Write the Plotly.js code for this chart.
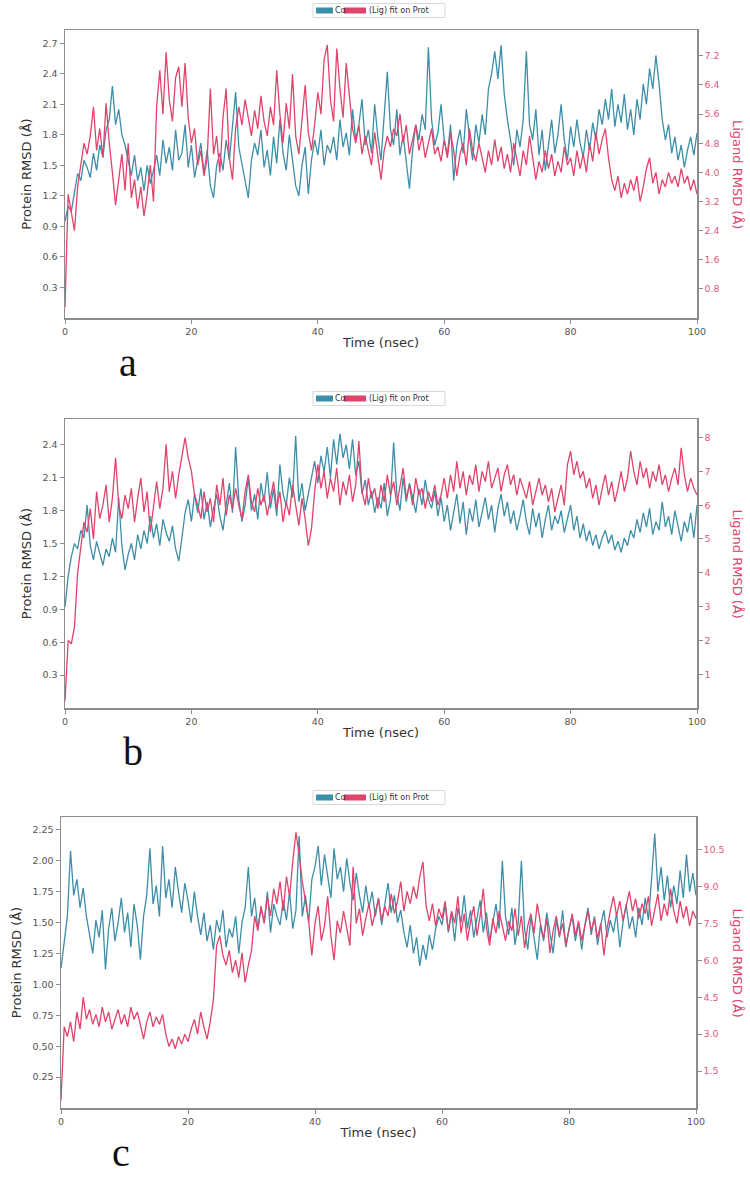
<!DOCTYPE html>
<html>
<head>
<meta charset="utf-8">
<script src="https://cdn.plot.ly/plotly-3.0.1.min.js"></script>
<style>html,body{margin:0;padding:0;background:#fff;}#chart{width:750px;height:1177px;}</style>
</head>
<body>
<div id="chart"></div>
<script>
// ---------- DATA (time step 0.5 ns, 0..100 ns) ----------
const timeStep = 0.5;
const nPoints = 201;
const xTickVals = [0, 20, 40, 60, 80, 100];
const seriesNames = ["Cα", "(Lig) fit on Prot"];
const panelLabels = ["a", "b", "c"];

// Panel a
const proteinA = [
0.95,1.10,1.05,1.25,1.42,1.35,1.55,1.48,1.38,1.62,1.45,1.70,1.58,1.85,1.95,2.28,1.90,2.05,1.80,1.70,
1.55,1.40,1.60,1.35,1.48,1.25,1.50,1.32,1.45,1.60,1.40,1.75,1.52,1.68,1.45,1.85,1.55,1.62,1.90,1.48,
1.70,1.38,1.55,1.72,1.42,1.65,1.30,1.18,1.50,1.62,1.45,1.75,1.55,1.90,2.22,1.68,1.50,1.35,1.18,1.55,
1.72,1.60,1.85,1.48,1.65,1.40,1.78,1.52,1.95,1.62,1.45,1.80,1.55,1.30,1.20,1.50,1.68,1.22,1.55,1.75,
1.60,1.85,1.50,1.70,1.62,1.78,1.55,1.95,1.68,1.82,1.60,2.05,1.75,1.90,2.15,1.70,1.85,1.62,2.10,1.78,
1.55,1.95,2.42,1.85,1.70,2.05,1.60,1.80,1.50,1.27,1.65,1.90,1.75,2.00,1.85,2.66,1.95,1.70,1.82,2.10,
1.75,1.60,1.90,1.35,1.70,1.85,1.62,2.05,1.78,1.55,1.90,1.72,2.00,1.80,2.25,2.40,2.62,2.35,2.68,2.20,
1.95,1.75,1.50,1.85,1.68,1.95,2.62,1.90,1.75,2.05,1.60,1.85,1.45,1.70,1.95,1.62,1.80,2.10,1.75,1.55,
1.88,1.68,1.95,1.72,1.58,1.85,1.65,1.92,1.75,2.05,1.90,2.15,1.95,2.25,1.88,2.10,1.92,2.20,1.85,2.05,
1.80,2.15,1.95,2.30,2.10,2.45,2.25,2.58,2.30,1.95,1.75,1.90,1.62,1.78,1.55,1.70,1.48,1.65,1.78,1.60,
1.82];
const ligandA = [
0.3,3.4,2.9,2.4,3.6,4.2,4.8,4.5,5.0,5.8,4.6,5.2,4.4,5.9,4.8,4.0,3.1,3.8,4.5,3.5,
4.8,3.3,3.8,3.0,3.6,2.8,3.4,4.2,3.2,5.8,6.8,5.6,7.3,6.0,5.4,6.6,6.9,5.8,7.0,5.5,
4.8,5.2,4.2,4.6,3.9,4.4,6.3,4.5,5.0,4.0,5.5,6.3,4.4,3.8,5.2,5.8,5.3,6.0,5.5,5.0,
5.7,5.2,6.1,5.4,5.0,5.8,5.3,6.8,5.6,4.8,5.9,5.2,6.7,5.0,4.5,5.5,6.4,5.1,4.6,5.3,
6.2,5.6,7.1,7.5,6.0,5.4,7.4,6.3,5.5,7.0,6.1,5.2,4.8,5.3,4.5,5.0,4.6,4.2,5.1,4.4,
3.8,4.6,5.0,4.7,5.2,5.0,5.6,4.8,5.3,4.5,4.9,5.3,4.6,5.0,4.4,4.8,5.2,4.5,4.7,4.3,
4.9,4.4,5.1,4.6,3.9,4.5,4.8,4.2,5.2,4.6,4.3,4.8,4.4,4.0,4.6,4.2,4.9,4.3,4.7,4.1,
4.5,4.0,4.8,4.3,3.9,4.6,4.2,5.0,4.4,3.8,4.3,4.0,4.6,4.1,4.5,3.9,4.3,4.0,4.7,4.2,
4.4,3.9,4.6,4.1,4.5,4.0,4.8,4.3,5.1,4.5,4.9,5.2,4.4,3.8,3.5,3.9,3.3,3.7,3.4,3.8,
3.5,3.9,3.2,3.6,4.1,4.4,3.7,4.0,3.4,3.8,3.6,4.0,3.7,3.9,3.6,4.1,3.7,3.9,3.5,3.8,
3.4];

// Panel b
const proteinB = [
0.92,1.20,1.38,1.50,1.45,1.62,1.55,1.85,1.48,1.35,1.52,1.40,1.30,1.45,1.38,1.55,1.42,1.92,1.48,1.26,
1.40,1.50,1.35,1.58,1.45,1.62,1.50,1.75,1.55,1.68,1.48,1.72,1.60,1.52,1.66,1.45,1.34,1.55,1.78,1.90,
1.70,1.95,1.78,2.00,1.72,1.88,1.65,1.82,1.95,1.75,1.62,1.85,2.05,1.78,2.38,1.90,1.70,1.85,2.10,1.80,
1.95,1.72,2.05,1.88,2.15,1.82,2.00,1.75,2.22,1.95,1.85,2.10,1.92,2.48,1.88,2.05,1.80,1.95,2.12,2.25,
2.05,2.30,2.15,2.38,2.10,2.45,2.22,2.50,2.28,2.40,2.18,2.45,2.12,2.25,1.95,2.08,1.85,1.98,1.78,1.92,
1.82,2.05,1.75,1.90,2.42,1.95,1.80,2.10,1.88,2.05,1.92,1.78,2.00,1.85,2.08,1.90,1.82,1.98,1.75,1.92,
1.70,1.85,1.62,1.80,1.95,1.68,1.88,1.58,1.82,1.70,1.90,1.65,1.78,1.92,1.72,1.85,1.60,1.82,1.95,1.75,
1.88,1.68,1.80,1.62,1.75,1.90,1.70,1.58,1.82,1.65,1.78,1.55,1.72,1.85,1.62,1.75,1.68,1.80,1.60,1.72,
1.85,1.62,1.75,1.55,1.68,1.52,1.62,1.48,1.58,1.45,1.55,1.62,1.50,1.58,1.44,1.52,1.42,1.55,1.48,1.62,
1.55,1.72,1.60,1.78,1.65,1.82,1.58,1.70,1.62,1.88,1.65,1.75,1.58,1.80,1.66,1.52,1.70,1.60,1.78,1.55,
1.85];
const ligandB = [
0.2,2.0,1.9,2.4,4.0,4.8,5.5,5.2,5.9,5.0,6.4,5.6,6.0,6.6,5.5,6.2,7.4,6.0,5.6,6.3,
5.9,6.5,5.5,6.2,6.8,5.8,6.4,5.2,6.0,6.7,5.9,6.5,7.8,6.4,7.0,6.2,6.9,7.5,8.0,7.4,
7.0,6.3,6.0,5.6,6.4,5.8,6.2,5.5,6.6,6.0,6.8,5.7,6.3,5.9,6.5,6.0,5.6,6.4,6.9,6.1,
5.8,6.5,6.0,6.3,5.7,6.2,6.7,5.9,6.4,5.5,6.1,5.7,6.6,6.0,5.4,6.2,5.6,4.8,5.3,6.4,
7.2,6.5,7.0,6.2,6.8,6.4,7.1,6.0,6.7,6.3,6.9,6.1,6.6,7.9,6.4,6.0,6.8,6.2,6.5,5.9,
6.6,6.1,6.9,6.3,6.7,6.0,6.5,7.1,6.2,6.6,6.0,6.8,6.3,6.5,5.9,6.4,6.1,6.6,6.0,6.3,
6.8,6.2,6.9,6.4,7.3,6.5,7.0,6.3,6.9,6.6,7.2,6.4,7.0,6.7,7.3,6.5,6.8,7.1,6.4,6.9,
7.2,6.6,6.9,6.3,6.8,6.5,6.2,6.7,6.0,6.4,6.8,6.3,6.6,6.1,6.5,5.8,6.2,6.6,6.0,7.2,
7.6,6.9,7.3,6.8,7.0,6.5,6.8,6.2,6.6,6.0,6.5,6.9,6.3,6.7,6.1,6.5,7.0,6.4,6.8,7.6,
7.0,6.6,7.3,6.8,7.1,6.5,7.0,6.7,7.2,6.6,6.9,6.4,6.8,7.1,6.6,7.7,6.9,6.4,6.8,6.5,
6.3];

// Panel c
const proteinC = [
1.13,1.35,1.55,2.08,1.72,1.85,1.62,1.78,1.55,1.40,1.25,1.52,1.38,1.60,1.12,1.45,1.62,1.35,1.50,1.70,
1.42,1.58,1.30,1.65,1.48,1.20,1.55,1.72,2.10,1.65,1.80,1.55,2.12,1.70,1.85,1.62,1.95,1.75,1.58,1.82,
1.68,1.50,1.75,1.55,1.40,1.58,1.35,1.48,1.28,1.52,1.42,1.60,1.30,1.45,1.38,1.55,1.25,1.50,1.62,1.95,
1.55,1.70,1.45,1.62,1.50,1.75,1.42,1.65,1.55,1.48,1.68,1.52,1.75,1.45,1.60,2.20,1.55,1.72,1.50,1.85,
1.95,2.12,1.80,2.05,1.88,1.70,2.10,1.85,1.95,1.75,2.02,1.82,1.68,1.90,1.72,1.58,1.80,1.62,1.75,1.55,
1.70,1.48,1.65,1.82,1.58,1.72,1.50,1.60,1.42,1.30,1.48,1.25,1.38,1.15,1.32,1.20,1.40,1.28,1.45,1.55,
1.48,1.65,1.42,1.58,1.35,1.62,1.50,1.72,1.45,1.60,1.38,1.55,1.68,1.42,1.58,1.35,1.52,1.65,1.45,2.00,
1.55,1.40,1.62,1.32,1.50,2.00,1.45,1.28,1.55,1.38,1.20,1.48,1.35,1.58,1.42,1.25,1.52,1.38,1.60,1.30,
1.45,1.55,1.35,1.50,1.28,1.48,1.62,1.40,1.55,1.32,1.48,1.60,1.38,1.52,1.42,1.58,1.30,1.50,1.65,1.45,
1.55,1.38,1.62,1.48,1.70,1.52,1.85,2.22,1.75,1.95,1.68,1.88,1.62,1.80,1.65,1.92,1.70,2.05,1.75,1.90,
1.72];
const ligandC = [
0.3,3.3,2.9,3.5,2.7,3.9,3.2,4.5,3.6,4.0,3.4,3.8,3.3,4.1,3.5,3.9,3.2,3.6,4.0,3.4,
3.8,3.3,4.1,3.6,3.9,3.4,2.8,3.5,3.9,3.3,3.7,3.4,3.8,3.0,2.5,2.8,2.4,2.9,2.6,3.0,
2.7,3.2,3.6,3.0,3.9,3.3,2.8,3.5,4.4,6.6,7.0,6.2,5.8,6.4,5.5,6.0,5.3,6.3,5.1,5.8,
6.4,7.8,7.2,8.2,7.5,8.6,7.8,8.9,8.3,9.2,8.0,9.4,8.6,10.0,11.2,10.3,9.2,8.4,7.6,6.2,
7.5,8.2,6.8,7.4,8.6,7.0,6.0,7.6,7.1,8.0,7.3,6.6,9.8,7.5,8.1,7.0,7.7,8.3,7.4,8.0,
8.5,7.6,8.2,7.8,8.7,7.9,8.4,9.2,8.0,8.8,8.3,9.0,8.5,9.4,10.0,8.2,7.6,8.3,7.4,8.1,
7.7,8.4,7.2,8.0,7.5,8.6,7.1,7.9,6.8,7.6,8.2,7.0,7.8,8.9,7.3,6.6,7.7,7.1,8.0,7.4,
6.8,7.6,7.2,8.1,7.0,7.8,6.5,7.4,7.9,7.1,8.3,7.5,6.9,7.7,6.3,7.2,7.8,7.0,7.5,6.6,
7.3,7.9,7.0,7.6,6.8,7.4,8.0,7.2,7.7,6.9,7.5,6.2,7.3,8.0,8.6,7.8,8.4,7.6,8.2,8.8,
8.0,8.5,7.7,8.3,7.9,8.6,7.4,8.1,8.7,7.6,8.3,7.8,8.9,8.0,7.5,8.4,7.7,8.2,7.4,8.0,
7.7];

// Axis tick values
const protTicksA = [0.3,0.6,0.9,1.2,1.5,1.8,2.1,2.4,2.7];
const ligTicksA  = [0.8,1.6,2.4,3.2,4.0,4.8,5.6,6.4,7.2];
const protTicksB = [0.3,0.6,0.9,1.2,1.5,1.8,2.1,2.4];
const ligTicksB  = [1,2,3,4,5,6,7,8];
const protTicksC = [0.25,0.50,0.75,1.00,1.25,1.50,1.75,2.00,2.25];
const ligTicksC  = [1.5,3.0,4.5,6.0,7.5,9.0,10.5];

// ---------- LAYOUT ----------
const W = 750, H = 1177;
const px = x => x / W;
const py = y => 1 - y / H;
const time = Array.from({length: nPoints}, (_, i) => i * timeStep);

const TEAL = '#3d8ea9';
const RED = '#e0436b';
const SPINE = '#8c8c8c';
const TICKFONT = {family: 'DejaVu Sans, sans-serif', size: 9.5, color: '#555'};
const REDTICKFONT = {family: 'DejaVu Sans, sans-serif', size: 9.5, color: '#e25a7c'};

const panels = [
  {prot: proteinA, lig: ligandA, x0: 65, x1: 697, y0: 30, y1: 318, pr: [0, 2.83], lr: [0, 7.91],
   pt: protTicksA, lt: ligTicksA, pf: '.1f', lf: '.1f', legY: 10.5, label: [128, 362]},
  {prot: proteinB, lig: ligandB, x0: 65, x1: 697, y0: 419, y1: 708, pr: [0, 2.635], lr: [0, 8.55],
   pt: protTicksB, lt: ligTicksB, pf: '.1f', lf: 'd', legY: 398.5, label: [133, 751]},
  {prot: proteinC, lig: ligandC, x0: 61, x1: 696, y0: 817, y1: 1108, pr: [0, 2.354], lr: [0, 11.82],
   pt: protTicksC, lt: ligTicksC, pf: '.2f', lf: '.1f', legY: 797.5, label: [121, 1152]}
];

const data = [];
const layout = {
  width: W, height: H, margin: {l: 0, r: 0, t: 0, b: 0},
  paper_bgcolor: '#fff', plot_bgcolor: '#fff', showlegend: false,
  font: {family: 'DejaVu Sans, sans-serif', color: '#333'},
  shapes: [], annotations: []
};

panels.forEach((p, i) => {
  const xs = i === 0 ? '' : String(i + 1);
  const yl = String(2 * i + 1), yr = String(2 * i + 2);
  const yln = yl === '1' ? '' : yl;
  data.push({x: time, y: p.prot, type: 'scatter', mode: 'lines', name: seriesNames[0],
    xaxis: 'x' + xs, yaxis: 'y' + yln, line: {color: TEAL, width: 1.3}});
  data.push({x: time, y: p.lig, type: 'scatter', mode: 'lines', name: seriesNames[1],
    xaxis: 'x' + xs, yaxis: 'y' + yr, line: {color: RED, width: 1.3}});

  layout['xaxis' + xs] = {
    domain: [px(p.x0), px(p.x1)], anchor: 'y' + yln, range: [0, 100],
    tickvals: xTickVals, ticks: 'outside', ticklen: 4, tickcolor: SPINE, tickwidth: 1,
    showline: true, mirror: true, linecolor: SPINE, linewidth: 1.5,
    showgrid: false, zeroline: false, tickfont: TICKFONT,
    title: {text: 'Time (nsec)', font: {family: 'DejaVu Sans, sans-serif', size: 13, color: '#333'}, standoff: 2}
  };
  layout['yaxis' + yln] = {
    domain: [py(p.y1), py(p.y0)], anchor: 'x' + xs, range: p.pr,
    tickvals: p.pt, tickformat: p.pf, ticks: 'outside', ticklen: 4, tickcolor: SPINE,
    showline: true, linecolor: SPINE, linewidth: 1.5, showgrid: false, zeroline: false,
    tickfont: TICKFONT,
    title: {text: 'Protein RMSD (Å)', font: {family: 'DejaVu Sans, sans-serif', size: 13, color: '#333'}, standoff: 8}
  };
  layout['yaxis' + yr] = {
    overlaying: 'y' + yln, side: 'right', anchor: 'x' + xs, range: p.lr,
    tickvals: p.lt, tickformat: p.lf, ticks: 'outside', ticklen: 4, tickcolor: SPINE,
    showline: true, linecolor: SPINE, linewidth: 1.5, showgrid: false, zeroline: false,
    tickfont: REDTICKFONT
  };
  // right axis title (reads top to bottom)
  layout.annotations.push({xref: 'paper', yref: 'paper', x: px(737), y: py((p.y0 + p.y1) / 2),
    text: 'Ligand RMSD (Å)', textangle: 90, showarrow: false, xanchor: 'center', yanchor: 'middle',
    font: {family: 'DejaVu Sans, sans-serif', size: 13, color: RED}});
  // legend box
  const ly = p.legY;
  layout.shapes.push({type: 'rect', xref: 'paper', yref: 'paper', x0: px(313), x1: px(445), y0: py(ly + 7), y1: py(ly - 7),
    line: {color: '#d8d8d8', width: 1}, fillcolor: '#fff'});
  layout.shapes.push({type: 'rect', xref: 'paper', yref: 'paper', x0: px(316), x1: px(333), y0: py(ly + 3), y1: py(ly - 3),
    line: {width: 0}, fillcolor: TEAL});
  layout.shapes.push({type: 'rect', xref: 'paper', yref: 'paper', x0: px(344), x1: px(366), y0: py(ly + 3), y1: py(ly - 3),
    line: {width: 0}, fillcolor: RED});
  layout.annotations.push({xref: 'paper', yref: 'paper', x: px(333), y: py(ly), text: seriesNames[0],
    showarrow: false, xanchor: 'left', yanchor: 'middle', font: {family: 'DejaVu Sans, sans-serif', size: 8, color: '#333'}});
  layout.annotations.push({xref: 'paper', yref: 'paper', x: px(367), y: py(ly), text: seriesNames[1],
    showarrow: false, xanchor: 'left', yanchor: 'middle', font: {family: 'DejaVu Sans, sans-serif', size: 8, color: '#333'}});
  // panel letter
  layout.annotations.push({xref: 'paper', yref: 'paper', x: px(p.label[0]), y: py(p.label[1]), text: panelLabels[i],
    showarrow: false, xanchor: 'center', yanchor: 'middle', font: {family: 'Liberation Serif, DejaVu Serif, serif', size: 40, color: '#111'}});
});

Plotly.newPlot('chart', data, layout, {staticPlot: true, displayModeBar: false});
</script>
</body>
</html>
